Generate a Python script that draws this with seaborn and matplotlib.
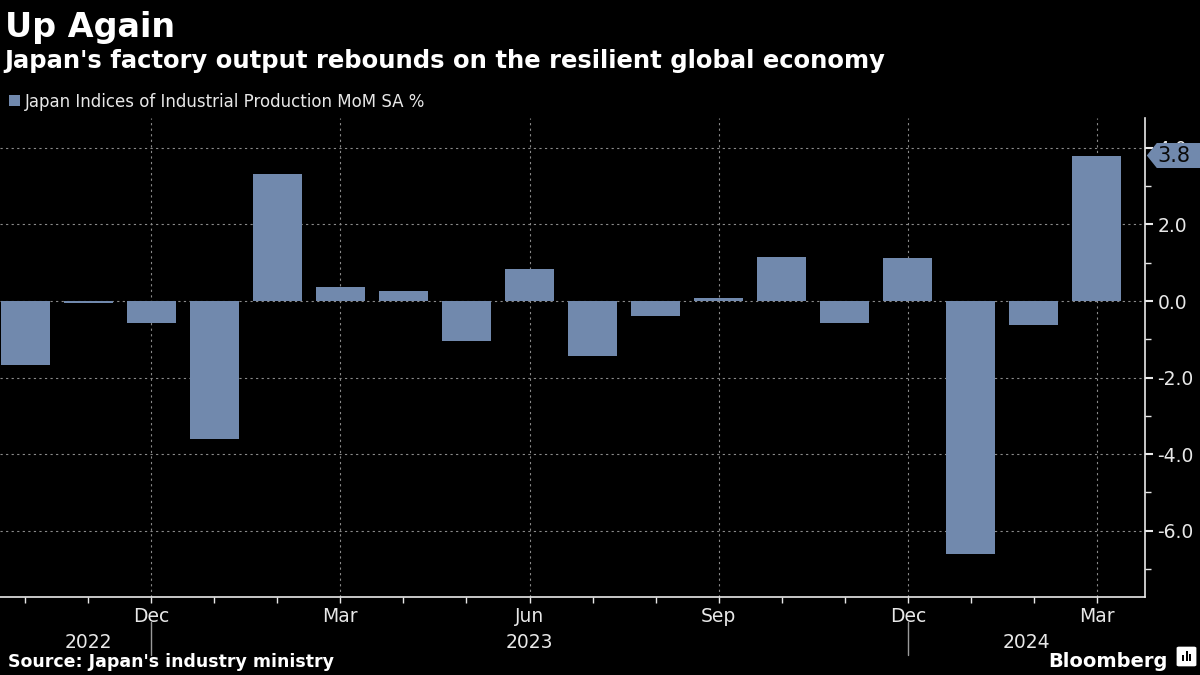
import matplotlib
matplotlib.use("Agg")
import matplotlib.pyplot as plt
import matplotlib.patches as mpatches
import seaborn as sns
import pandas as pd
import numpy as np

# --- data ---
months = ["Oct 2022", "Nov 2022", "Dec 2022", "Jan 2023", "Feb 2023", "Mar 2023",
          "Apr 2023", "May 2023", "Jun 2023", "Jul 2023", "Aug 2023", "Sep 2023",
          "Oct 2023", "Nov 2023", "Dec 2023", "Jan 2024", "Feb 2024", "Mar 2024"]
mom_pct = [-1.67, -0.05, -0.57, -3.6, 3.32, 0.37,
           0.26, -1.04, 0.84, -1.43, -0.38, 0.08,
           1.15, -0.57, 1.12, -6.62, -0.62, 3.8]
tick_months = ["Dec 2022", "Mar 2023", "Jun 2023", "Sep 2023", "Dec 2023", "Mar 2024"]
tick_labels = ["Dec", "Mar", "Jun", "Sep", "Dec", "Mar"]
year_labels = ["2022", "2023", "2024"]
year_breaks = ["Dec 2022", "Dec 2023"]
y_ticks = [-6.0, -4.0, -2.0, 0.0, 2.0, 4.0]

df = pd.DataFrame({"month": months, "value": mom_pct})

BG = "#000000"
BAR = "#7189ad"
FG = "#e8e8e8"
GRID = "#8a8a8a"
NARROW = ["Liberation Sans Narrow", "DejaVu Sans"]
BOLD = ["DejaVu Sans"]

sns.set_theme(style="dark")
plt.rcParams["font.family"] = NARROW

fig = plt.figure(figsize=(12, 6.75), dpi=100, facecolor=BG)
ax = fig.add_axes([0, 0.1156, 0.954, 0.7096], facecolor=BG)

sns.barplot(data=df, x="month", y="value", order=months, color=BAR,
            saturation=1, width=0.78, errorbar=None, ax=ax, zorder=3,
            linewidth=0, edgecolor="none")

pos = {m: i for i, m in enumerate(months)}
ax.set_xlim(-0.4, len(months) - 1 + 0.76)
ax.set_ylim(-7.73, 4.78)

# x axis: month ticks, quarterly labels
ax.set_xticks([pos[m] for m in tick_months])
ax.set_xticklabels(tick_labels)
ax.set_xticks(range(len(months)), minor=True)
ax.tick_params(axis="x", which="both", colors=FG, length=4, width=1,
               direction="out", labelsize=13.5, pad=3, bottom=True)
ax.set_xlabel("")

# y axis on the right
ax.yaxis.tick_right()
ax.set_yticks(y_ticks)
ax.set_yticklabels([f"{v:.1f}" for v in y_ticks])
ax.set_yticks(np.arange(-7, 5, 2), minor=True)
ax.tick_params(axis="y", which="major", colors=FG, length=6, width=1.5,
               labelsize=13.5, pad=3, right=True, left=False)
ax.tick_params(axis="y", which="minor", colors=FG, length=4, width=1,
               right=True, left=False)
ax.set_ylabel("")

for s in ["top", "left"]:
    ax.spines[s].set_visible(False)
for s in ["bottom", "right"]:
    ax.spines[s].set_visible(True)
    ax.spines[s].set_color(FG)
    ax.spines[s].set_linewidth(1.2)

# dotted grid
ax.grid(False)
for m in tick_months:
    ax.axvline(pos[m], color=GRID, lw=0.8, ls=(0, (2, 3)), zorder=1)
for v in y_ticks:
    ax.axhline(v, color=GRID, lw=0.8, ls=(0, (2, 3)), zorder=1)

# year labels and separators below the axis
for m in year_breaks:
    ax.axvline(pos[m], ymin=-0.121, ymax=-0.052, clip_on=False, color="#9a9a9a", lw=1)
xl = ax.get_xlim()
year_x = [pos["Nov 2022"],
          (pos[year_breaks[0]] + pos[year_breaks[1]]) / 2,
          (pos[year_breaks[1]] + xl[1]) / 2]
for yx, lab in zip(year_x, year_labels):
    ax.text(yx, -0.075, lab, transform=ax.get_xaxis_transform(), ha="center",
            va="top", color=FG, fontsize=13.5)

# last value tag
fig.canvas.draw()
last = mom_pct[-1]
ax_px, ay_px = ax.get_yaxis_transform().transform((1, last))
h = 12.5
verts = [(ax_px + 2, ay_px), (ax_px + 12, ay_px + h), (1200, ay_px + h),
         (1200, ay_px - h), (ax_px + 12, ay_px - h)]
tag = mpatches.Polygon(verts, closed=True, facecolor=BAR, edgecolor="none",
                       transform=None, zorder=10)
fig.patches.append(tag)
fig.text((ax_px + 13) / 1200, ay_px / 675, f"{last:.1f}", ha="left", va="center",
         color="#0a0a0a", fontsize=15, zorder=11)

# titles
fig.text(0.004, 0.945, "Up Again", fontsize=24, weight="bold", color="white",
         family=BOLD, va="baseline")
fig.text(0.004, 0.899, "Japan's factory output rebounds on the resilient global economy",
         fontsize=17.5, weight="bold", color="white", family=BOLD, va="baseline")
fig.patches.append(mpatches.Rectangle((9 / 1200, 1 - 106 / 675), 11 / 1200, 11 / 675,
                                      transform=fig.transFigure, facecolor=BAR,
                                      edgecolor="none"))
fig.text(25 / 1200, 1 - 107 / 675, "Japan Indices of Industrial Production MoM SA %",
         fontsize=12, color=FG, va="baseline")

# footer
fig.text(0.007, 0.012, "Source: Japan's industry ministry", fontsize=12.5,
         weight="bold", color="white", family=BOLD, va="baseline")
fig.text(1168 / 1200, 0.012, "Bloomberg", fontsize=14, weight="bold",
         color="white", family=BOLD, ha="right", va="baseline")
fig.patches.append(mpatches.FancyBboxPatch((1179 / 1200, 10 / 675), 15 / 1200, 17 / 675,
                                           boxstyle="round,pad=0.002",
                                           transform=fig.transFigure,
                                           facecolor="white", edgecolor="none"))
for i, bh in enumerate([6, 10, 7]):
    fig.patches.append(mpatches.Rectangle(((1182 + 3.5 * i) / 1200, 14 / 675),
                                          2 / 1200, bh / 675,
                                          transform=fig.transFigure,
                                          facecolor="black", edgecolor="none"))

fig.savefig("out.png", dpi=100, facecolor=BG)
